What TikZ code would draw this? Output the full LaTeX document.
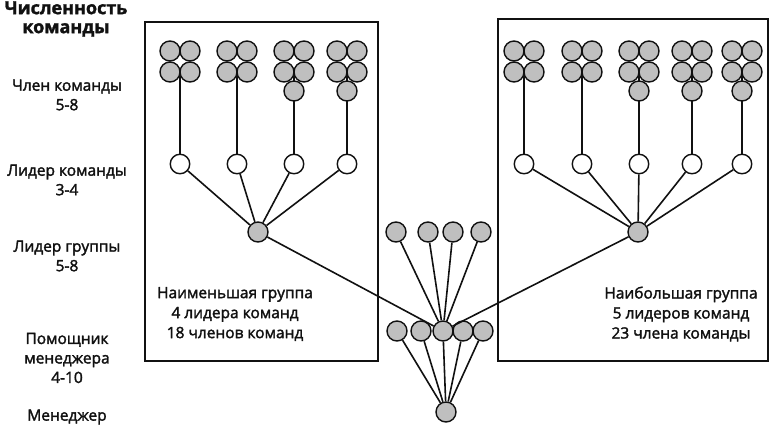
\documentclass[tikz,border=0pt]{standalone}
\usepackage{fontspec}
\setmainfont{Open Sans}
\newfontfamily\medfont{Open Sans}[FakeBold=2]
\newfontfamily\heavyfont{Open Sans Bold}[FakeBold=1.5]
\definecolor{memfill}{HTML}{BFBFBF}
\definecolor{ink}{HTML}{111111}
\begin{document}
\begin{tikzpicture}[x=1pt,y=-1pt,
  member/.style={circle,draw=ink,fill=memfill,line width=1.4pt,minimum size=20pt,inner sep=0pt},
  leader/.style={circle,draw=ink,fill=white,line width=1.4pt,minimum size=19.5pt,inner sep=0pt},
  conn/.style={draw=ink,line width=1.6pt},
  frame/.style={draw=ink,line width=1.6pt},
  lab/.style={align=center,text=ink,font=\medfont\fontsize{15.5}{19.5}\selectfont,inner sep=0pt},
  title/.style={align=center,text=ink,font=\heavyfont\fontsize{18}{19}\selectfont,inner sep=0pt},
  boxtext/.style={align=center,text=ink,font=\medfont\fontsize{15.5}{20}\selectfont,inner sep=0pt}]
\useasboundingbox (0,0) rectangle (770,428);

% frames
\draw[frame] (145,22) rectangle (378,361);
\draw[frame] (498,19) rectangle (768,361);

% labels
\node[title] (t) at (66,19) {Численность\\команды};
\node[lab] (l1) at (67,95) {Член команды\\5-8};
\node[lab] (l2) at (67,180) {Лидер команды\\3-4};
\node[lab] (l3) at (67,256) {Лидер группы\\5-8};
\node[lab] (l4) at (67,358) {Помощник\\менеджера\\4-10};
\node[lab] (l5) at (67,417) {Менеджер};

\node[boxtext] (bl) at (235,314) {Наименьшая группа\\4 лидера команд\\18 членов команд};
\node[boxtext] (br) at (681,314) {Наибольшая группа\\5 лидеров команд\\23 члена команды};

% group leaders
\node[member] (GL) at (258,232) {};
\node[member] (GR) at (638,232) {};

% team leaders and stems
\foreach \i/\cx in {1/180,2/237,3/294,4/347}{
  \node[leader] (TL\i) at (\cx,164) {};
  \coordinate (SL\i) at (\cx,72);
  \draw[conn] (SL\i) -- (TL\i);
  \draw[conn] (TL\i) -- (GL);
}
\foreach \i/\cx in {1/524,2/582,3/639,4/692,5/742}{
  \node[leader] (TR\i) at (\cx,164) {};
  \coordinate (SR\i) at (\cx,72);
  \draw[conn] (SR\i) -- (TR\i);
  \draw[conn] (TR\i) -- (GR);
}

% member clusters left
\foreach \i/\cx in {1/180,2/237,3/294,4/347}{
  \node[member] (ML\i a) at (\cx-10,51) {};
  \node[member] (ML\i b) at (\cx+10,51) {};
  \node[member] (ML\i c) at (\cx-10,72) {};
  \node[member] (ML\i d) at (\cx+10,72) {};
}
\node[member] (ML3e) at (294,91) {};
\node[member] (ML4e) at (347,91) {};
% member clusters right
\foreach \i/\cx in {1/524,2/582,3/639,4/692,5/742}{
  \node[member] (MR\i a) at (\cx-10,51) {};
  \node[member] (MR\i b) at (\cx+10,51) {};
  \node[member] (MR\i c) at (\cx-10,72) {};
  \node[member] (MR\i d) at (\cx+10,72) {};
}
\node[member] (MR3e) at (639,91) {};
\node[member] (MR4e) at (692,91) {};
\node[member] (MR5e) at (742,91) {};

% middle: other group leaders
\node[member] (O1) at (396,232) {};
\node[member] (O2) at (428,232) {};
\node[member] (O3) at (453,232) {};
\node[member] (O4) at (481,232) {};
% assistants
\node[member] (A1) at (397,331) {};
\node[member] (A2) at (421,331) {};
\node[member] (A4) at (463,331) {};
\node[member] (A5) at (483,331) {};
\node[member] (A3) at (443,331) {};
% manager
\node[member] (M) at (446,412) {};

\foreach \o in {O1,O2,O3,O4,GL,GR}{ \draw[conn] (\o) -- (A3); }
\foreach \a in {A1,A2,A3,A4,A5}{ \draw[conn] (\a) -- (M); }
\end{tikzpicture}
\end{document}
